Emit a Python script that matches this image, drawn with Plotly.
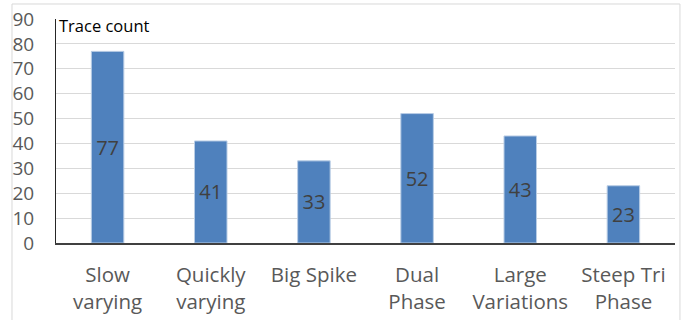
import plotly.graph_objects as go

# Trace counts per waveform category
categories = ["Slow<br>varying", "Quickly<br>varying", "Big Spike",
              "Dual<br>Phase", "Large<br>Variations", "Steep Tri<br>Phase"]
trace_counts = [77, 41, 33, 52, 43, 23]
y_ticks = [0, 10, 20, 30, 40, 50, 60, 70, 80, 90]

FONT = "Open Sans"

fig = go.Figure(
    go.Bar(
        x=categories,
        y=trace_counts,
        text=trace_counts,
        textposition="inside",
        insidetextanchor="middle",
        textangle=0,
        textfont=dict(family=FONT, size=20, color="#404040"),
        marker=dict(color="#4F81BD", line=dict(color="#B9CDE5", width=1)),
        cliponaxis=False,
        hoverinfo="skip",
    )
)

fig.update_layout(
    width=683,
    height=320,
    margin=dict(l=56, r=8, t=19, b=77),
    paper_bgcolor="white",
    plot_bgcolor="white",
    bargap=0.685,
    showlegend=False,
    font=dict(family=FONT, color="#595959"),
    shapes=[
        # light frame around the whole chart
        dict(type="rect", xref="paper", yref="paper",
             x0=-0.0711, x1=1.008, y0=-0.45, y1=1.067,
             line=dict(color="#D9D9D9", width=1), fillcolor="rgba(0,0,0,0)",
             layer="below"),
    ],
    annotations=[
        dict(text="Trace count", xref="paper", yref="paper",
             x=0.002, y=1.03, xanchor="left", yanchor="top",
             showarrow=False, font=dict(family=FONT, size=16.5, color="#000000")),
    ],
)

fig.update_xaxes(
    automargin=False,
    showgrid=False,
    showline=True,
    linecolor="#404040",
    linewidth=1.5,
    ticks="",
    tickfont=dict(family=FONT, size=20.5, color="#595959"),
    ticklabelstandoff=13,
)

fig.update_yaxes(
    automargin=False,
    range=[0, 90],
    tickvals=y_ticks,
    showgrid=True,
    gridcolor="#D9D9D9",
    gridwidth=1,
    showline=True,
    linecolor="#262626",
    linewidth=1,
    zeroline=False,
    ticks="",
    tickfont=dict(family=FONT, size=19, color="#595959"),
    ticklabelstandoff=17,
)

fig.write_html("out.html")
